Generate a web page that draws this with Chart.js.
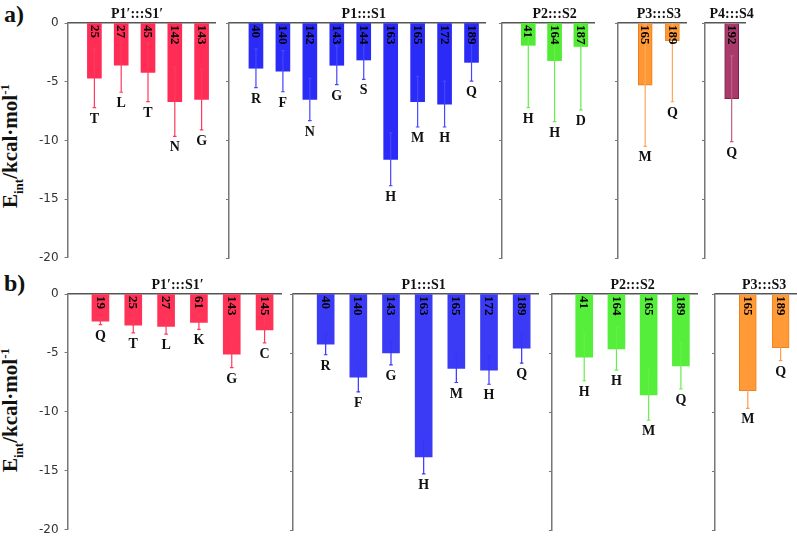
<!DOCTYPE html>
<html>
<head>
<meta charset="utf-8">
<script src="https://cdn.jsdelivr.net/npm/chart.js@4.4.1/dist/chart.umd.min.js"></script>
<style>
body { margin: 0; background: #fff; width: 797px; height: 536px; position: relative; overflow: hidden; }
.caja { position: absolute; }
.panel { position: absolute; font: bold 24px "Liberation Serif", serif; color: #111; }
.ytit { position: absolute; font: bold 21px "Liberation Serif", serif; color: #111; white-space: nowrap;
        transform: translate(-50%, -50%) rotate(-90deg); }
.ytit sub, .ytit sup { font-size: 13px; }
</style>
</head>
<body>
<div class="panel" style="left:4px;top:1px">a)</div>
<div class="panel" style="left:4px;top:270px">b)</div>
<div class="ytit" style="left:12px;top:146px">E<sub>int</sub>/kcal·mol<sup>-1</sup></div>
<div class="ytit" style="left:12px;top:410px">E<sub>int</sub>/kcal·mol<sup>-1</sup></div>
<script>
// ---- panel a ----
const aP1pRes = ['25', '27', '45', '142', '143'];
const aP1pAa  = ['T', 'L', 'T', 'N', 'G'];
const aP1pVal = [-4.7, -3.6, -4.2, -6.7, -6.5];
const aP1pErr = [2.5, 2.3, 2.5, 2.95, 2.6];

const aP1Res = ['40', '140', '142', '143', '144', '163', '165', '172', '189'];
const aP1Aa  = ['R', 'F', 'N', 'G', 'S', 'H', 'M', 'H', 'Q'];
const aP1Val = [-3.85, -4.1, -6.5, -3.6, -3.15, -11.6, -6.7, -6.9, -3.35];
const aP1Err = [1.65, 1.75, 1.8, 1.65, 1.65, 2.25, 2.15, 1.95, 1.6];

const aP2Res = ['41', '164', '187'];
const aP2Aa  = ['H', 'H', 'D'];
const aP2Val = [-1.9, -3.2, -2.0];
const aP2Err = [5.3, 5.2, 5.4];

const aP3Res = ['165', '189'];
const aP3Aa  = ['M', 'Q'];
const aP3Val = [-5.3, -1.5];
const aP3Err = [5.2, 5.2];

const aP4Res = ['192'];
const aP4Aa  = ['Q'];
const aP4Val = [-6.45];
const aP4Err = [3.65];

// ---- panel b ----
const bP1pRes = ['19', '25', '27', '61', '143', '145'];
const bP1pAa  = ['Q', 'T', 'L', 'K', 'G', 'C'];
const bP1pVal = [-2.3, -2.65, -2.75, -2.4, -5.1, -3.05];
const bP1pErr = [0.3, 0.65, 0.65, 0.6, 1.15, 1.1];

const bP1Res = ['40', '140', '143', '163', '165', '172', '189'];
const bP1Aa  = ['R', 'F', 'G', 'H', 'M', 'H', 'Q'];
const bP1Val = [-4.25, -7.05, -5.0, -13.8, -6.3, -6.45, -4.6];
const bP1Err = [0.9, 1.25, 1.0, 1.45, 1.2, 1.2, 1.25];

const bP2Res = ['41', '164', '165', '189'];
const bP2Aa  = ['H', 'H', 'M', 'Q'];
const bP2Val = [-5.35, -4.65, -8.55, -6.1];
const bP2Err = [2.0, 1.8, 2.15, 1.95];

const bP3Res = ['165', '189'];
const bP3Aa  = ['M', 'Q'];
const bP3Val = [-8.2, -4.55];
const bP3Err = [1.5, 1.1];

const titulos = ['P1\u2032:::S1\u2032', 'P1:::S1', 'P2:::S2', 'P3:::S3', 'P4:::S4'];

const panelA = { cero: 23, fondo: 258, grosor: 14 };
const panelB = { cero: 294, fondo: 530, grosor: 17 };

const grupos = [
    { p: panelA, left: 68,  right: 215, titulo: titulos[0], res: aP1pRes, aa: aP1pAa, val: aP1pVal, err: aP1pErr, color: '#ff2d55', borde: null, colorErr: '#ff3a5c', primero: true, tdx: -11 },
    { p: panelA, left: 229, right: 485, titulo: titulos[1], res: aP1Res, aa: aP1Aa, val: aP1Val, err: aP1Err, color: '#2b2bf8', borde: null, colorErr: '#4646ff' },
    { p: panelA, left: 502, right: 594, titulo: titulos[2], res: aP2Res, aa: aP2Aa, val: aP2Val, err: aP2Err, color: '#52eb34', borde: null, colorErr: '#66ee4a' },
    { p: panelA, left: 618, right: 686, titulo: titulos[3], res: aP3Res, aa: aP3Aa, val: aP3Val, err: aP3Err, color: '#ff9832', borde: '#e57e1c', colorErr: '#ffa860' },
    { p: panelA, left: 705, right: 745, titulo: titulos[4], res: aP4Res, aa: aP4Aa, val: aP4Val, err: aP4Err, color: '#a83b6c', borde: '#7e2248', colorErr: '#c0607f' },
    { p: panelB, left: 68,  right: 281, titulo: titulos[0], res: bP1pRes, aa: bP1pAa, val: bP1pVal, err: bP1pErr, color: '#ff3357', borde: null, colorErr: '#ff3a5c', primero: true, tdx: -5 },
    { p: panelB, left: 293, right: 538, titulo: titulos[1], res: bP1Res, aa: bP1Aa, val: bP1Val, err: bP1Err, color: '#3b3bf5', borde: null, colorErr: '#3535ff' },
    { p: panelB, left: 552, right: 697, titulo: titulos[2], res: bP2Res, aa: bP2Aa, val: bP2Val, err: bP2Err, color: '#55ee3a', borde: null, colorErr: '#66ee4a' },
    { p: panelB, left: 715, right: 797, titulo: titulos[3], res: bP3Res, aa: bP3Aa, val: bP3Val, err: bP3Err, color: '#ff9a36', borde: '#e98420', colorErr: '#ff9a50' }
];

// barras de error, numero del residuo dentro de la barra, letra debajo y titulo del grupo
const anotaciones = {
    id: 'anotaciones',
    afterDatasetsDraw(chart) {
        const g = chart.options.plugins.anotaciones;
        const { ctx, chartArea } = chart;
        const y = chart.scales.y;
        const barras = chart.getDatasetMeta(0).data;
        ctx.save();
        barras.forEach((b, i) => {
            const v = g.val[i], e = g.err[i];
            const yArriba = Math.max(y.getPixelForValue(v + e), chartArea.top);
            const yAbajo = y.getPixelForValue(v - e);
            ctx.strokeStyle = g.colorErr;
            ctx.lineWidth = 1.2;
            ctx.beginPath();
            ctx.moveTo(b.x, yArriba);
            ctx.lineTo(b.x, yAbajo);
            ctx.moveTo(b.x - 1.8, yAbajo);
            ctx.lineTo(b.x + 1.8, yAbajo);
            if (v + e < 0) {
                ctx.moveTo(b.x - 1.8, yArriba);
                ctx.lineTo(b.x + 1.8, yArriba);
            }
            ctx.stroke();

            ctx.save();
            ctx.translate(b.x, chartArea.top + 2);
            ctx.rotate(Math.PI / 2);
            ctx.fillStyle = '#000';
            ctx.font = 'bold 13px "Liberation Serif"';
            ctx.textAlign = 'left';
            ctx.textBaseline = 'middle';
            ctx.fillText(g.res[i], 0, 0.5);
            ctx.restore();

            ctx.fillStyle = '#111';
            ctx.font = 'bold 14px "Liberation Serif"';
            ctx.textAlign = 'center';
            ctx.textBaseline = 'alphabetic';
            ctx.fillText(g.aa[i], b.x, yAbajo + 15);
        });
        const xt = (barras[0].x + barras[barras.length - 1].x) / 2 + (g.tdx || 0);
        ctx.fillStyle = '#111';
        ctx.font = 'bold 14px "Liberation Serif"';
        ctx.textAlign = 'center';
        ctx.textBaseline = 'alphabetic';
        ctx.fillText(g.titulo, xt, chartArea.top - 5);
        ctx.restore();
    }
};

function dibujarGrupo(g) {
    const caja = document.createElement('div');
    caja.className = 'caja';
    const cv = document.createElement('canvas');
    cv.width = g.right - g.left + 80;
    cv.height = g.p.fondo - g.p.cero + 40;
    caja.appendChild(cv);
    document.body.appendChild(caja);
    const n = g.res.length;

    const chart = new Chart(cv, {
        type: 'bar',
        data: {
            datasets: [{
                data: g.val.map((v, i) => ({ x: i, y: v })),
                backgroundColor: g.color,
                borderColor: g.borde || g.color,
                borderWidth: g.borde ? 1 : 0,
                barThickness: g.p.grosor
            }]
        },
        options: {
            responsive: false,
            maintainAspectRatio: false,
            animation: false,
            layout: { padding: { top: 24, right: 30, bottom: 6, left: 0 } },
            plugins: {
                legend: { display: false },
                tooltip: { enabled: false },
                anotaciones: g
            },
            scales: {
                x: {
                    type: 'linear', position: 'top', offset: false,
                    min: -1, max: n - 0.5,
                    ticks: { display: false, stepSize: 1 },
                    grid: { display: false },
                    border: { display: true, color: '#555', width: 1.5 }
                },
                y: {
                    min: -20, max: 0,
                    ticks: { display: !!g.primero, stepSize: 5, color: '#333', padding: 6,
                             font: { family: 'DejaVu Sans', size: 12 } },
                    grid: { drawOnChartArea: false, drawTicks: true, tickLength: 3, color: '#777' },
                    border: { display: true, color: '#777', width: 1.5 }
                }
            }
        },
        plugins: [anotaciones]
    });

    // ajustar el lienzo para que el area del grafico caiga sobre la caja de la figura
    const ca = chart.chartArea;
    const w = Math.round(chart.width + (g.right - g.left) - (ca.right - ca.left));
    const h = Math.round(chart.height + (g.p.fondo - g.p.cero) - (ca.bottom - ca.top));
    chart.resize(w, h);
    const ca2 = chart.chartArea;
    caja.style.left = (g.left - ca2.left) + 'px';
    caja.style.top = (g.p.cero - ca2.top) + 'px';
}

grupos.forEach(dibujarGrupo);
</script>
</body>
</html>
